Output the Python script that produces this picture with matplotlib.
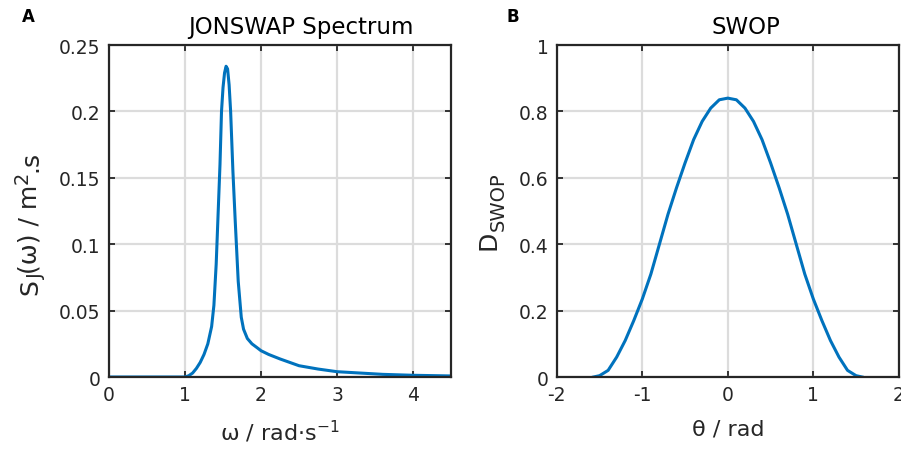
import matplotlib
matplotlib.use("Agg")
import matplotlib.pyplot as plt

plt.rcParams["font.family"] = ["DejaVu Sans"]
plt.rcParams["mathtext.fontset"] = "dejavusans"
plt.rcParams["axes.unicode_minus"] = False

# JONSWAP spectrum
omega = [0, 0.5, 0.9, 1.0, 1.05, 1.1, 1.15, 1.2, 1.25, 1.3, 1.35, 1.38,
         1.41, 1.43, 1.46, 1.48, 1.50, 1.52, 1.54, 1.56, 1.58, 1.60, 1.63,
         1.66, 1.70, 1.74, 1.77, 1.82, 1.88, 1.95, 2.0, 2.1, 2.25, 2.5,
         2.75, 3.0, 3.3, 3.6, 4.0, 4.5]
s_j = [0, 0, 0, 0, 0.001, 0.003, 0.0065, 0.011, 0.017, 0.025, 0.038, 0.054,
       0.085, 0.115, 0.16, 0.20, 0.218, 0.229, 0.234, 0.232, 0.22, 0.20,
       0.155, 0.118, 0.072, 0.045, 0.036, 0.029, 0.025, 0.022, 0.0198,
       0.017, 0.0136, 0.0085, 0.006, 0.004, 0.003, 0.002, 0.0013, 0.0008]

# SWOP directional spreading
theta = [-1.571, -1.5, -1.4, -1.3, -1.2, -1.1, -1.0, -0.9, -0.8, -0.7, -0.6,
         -0.5, -0.4, -0.3, -0.2, -0.1, 0.0, 0.1, 0.2, 0.3, 0.4, 0.5, 0.6,
         0.7, 0.8, 0.9, 1.0, 1.1, 1.2, 1.3, 1.4, 1.5, 1.571]
d_swop = [0, 0.004, 0.02, 0.06, 0.11, 0.17, 0.235, 0.31, 0.40, 0.49, 0.57,
          0.645, 0.715, 0.77, 0.81, 0.835, 0.84, 0.835, 0.81, 0.77, 0.715,
          0.645, 0.57, 0.49, 0.40, 0.31, 0.235, 0.17, 0.11, 0.06, 0.02,
          0.004, 0]

xticks_a = [0, 1, 2, 3, 4]
yticks_a = [0, 0.05, 0.1, 0.15, 0.2, 0.25]
ylabels_a = ["0", "0.05", "0.1", "0.15", "0.2", "0.25"]
xticks_b = [-2, -1, 0, 1, 2]
yticks_b = [0, 0.2, 0.4, 0.6, 0.8, 1]
ylabels_b = ["0", "0.2", "0.4", "0.6", "0.8", "1"]

BLUE = "#0072BD"
DARK = "#262626"
W, H = 901, 452

fig = plt.figure(figsize=(9.01, 4.52), dpi=100)
ax1 = fig.add_axes([0.121, 0.1637, 0.3796, 0.7345])
ax2 = fig.add_axes([0.618, 0.1637, 0.3796, 0.7345])
renderer = fig.canvas.get_renderer()


def style(ax):
    for s in ax.spines.values():
        s.set_color(DARK)
        s.set_linewidth(1.6)
    ax.tick_params(direction="in", length=4, width=1.3, colors=DARK,
                   labelsize=13.5, top=True, right=True, pad=6)
    ax.grid(True, color="#dcdcdc", lw=1.6)
    ax.set_axisbelow(True)


def vlabel(x_base, y_mid, parts):
    """rotated label built from pieces: (text, fontsize, shift px to the right)"""
    widths = []
    for s, size, _ in parts:
        t = fig.text(0, 0, s, fontsize=size)
        widths.append(t.get_window_extent(renderer).width)
        t.remove()
    y = (H - y_mid) - sum(widths) / 2
    for (s, size, dx), w in zip(parts, widths):
        fig.text((x_base + dx) / W, y / H, s, fontsize=size, color=DARK,
                 rotation=90, rotation_mode="anchor", ha="left",
                 va="baseline")
        y += w


ax1.plot(omega, s_j, color=BLUE, lw=2.2)
ax1.set_xlim(0, 4.5)
ax1.set_ylim(0, 0.25)
ax1.set_xticks(xticks_a)
ax1.set_yticks(yticks_a, ylabels_a)
style(ax1)
ax1.set_title("JONSWAP Spectrum", fontsize=16.5, pad=9, x=0.561)
ax1.set_xlabel(r"ω / rad·s$^{\mathregular{-1}}$", fontsize=16, color=DARK,
               labelpad=10)
vlabel(37, 223, [("S", 18, 0), ("J", 14, 5), ("(ω) / m", 18, 0),
                 ("2", 14, -9), (".s", 18, 0)])

ax2.plot(theta, d_swop, color=BLUE, lw=2.2)
ax2.set_xlim(-2, 2)
ax2.set_ylim(0, 1)
ax2.set_xticks(xticks_b)
ax2.set_yticks(yticks_b, ylabels_b)
style(ax2)
ax2.set_title("SWOP", fontsize=16.5, pad=9, x=0.553)
ax2.set_xlabel("θ / rad", fontsize=16, color=DARK, labelpad=10)
vlabel(495, 211, [("D", 18, 0), ("SWOP", 14, 9)])

fig.text(22 / W, 1 - 17 / H, "A", fontsize=12, fontweight="bold",
         va="center")
fig.text(507 / W, 1 - 17 / H, "B", fontsize=12, fontweight="bold",
         va="center")

fig.savefig("out.png")
